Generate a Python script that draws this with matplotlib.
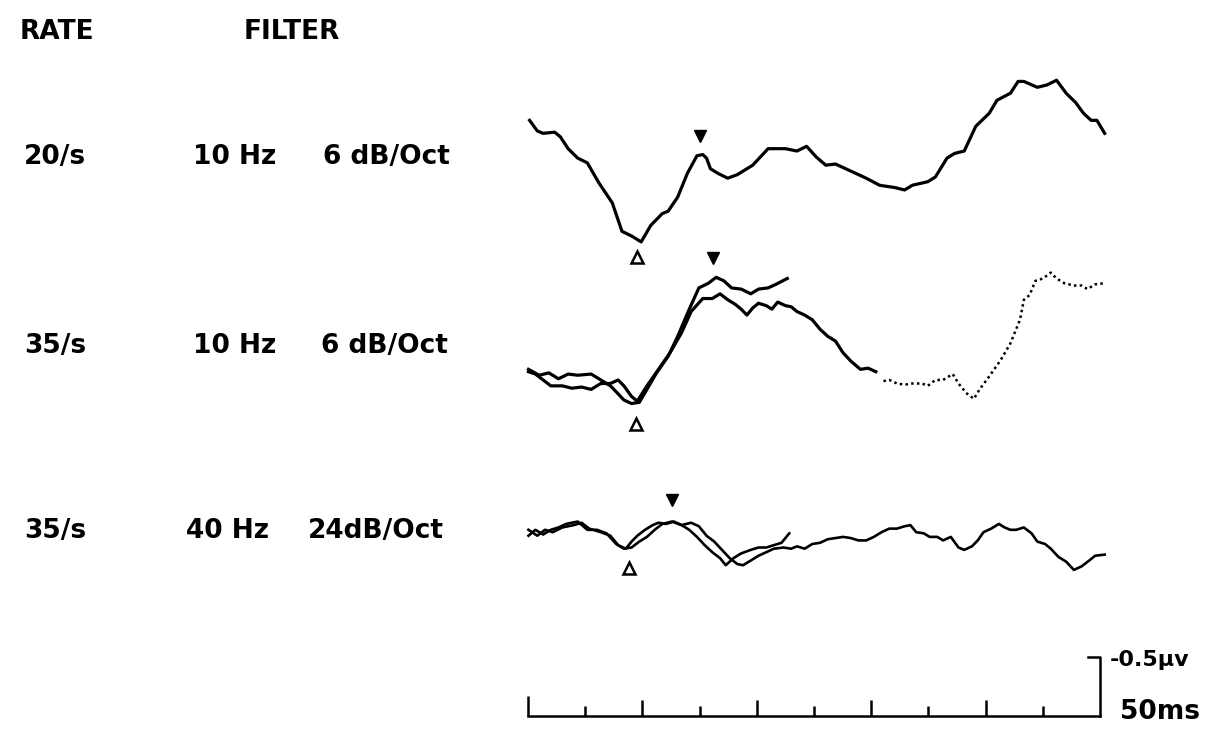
import numpy as np
import matplotlib.pyplot as plt

# sweep time in ms (10 ms per division), amplitude in µV, negativity plotted up
rate_labels = ['20/s', '35/s', '35/s']
filter_hz = ['10 Hz', '10 Hz', '40 Hz']
filter_slope = ['6 dB/Oct', '6 dB/Oct', '24dB/Oct']

# 20/s, 10 Hz 6 dB/Oct
tr1_t = [0.28, 1.63, 2.64, 4.65, 5.66, 7.01, 8.69, 10.37, 12.39, 14.74, 16.42, 18.10,
         19.78, 21.46, 23.48, 24.49, 26.17, 27.85, 29.53, 30.54, 31.21, 31.89, 33.23,
         34.91, 36.59, 39.28, 41.97, 45.00, 47.01, 48.70, 50.38, 52.06, 53.74, 56.43,
         59.12, 61.47, 64.16, 65.84, 67.19, 69.88, 71.22, 73.24, 74.58, 76.26, 78.28,
         80.63, 81.98, 84.33, 85.68, 86.69, 89.04, 90.72, 92.40, 94.08, 95.76, 97.11,
         98.45, 99.46, 100.81]
tr1_v = [-0.08, 0.01, 0.03, 0.02, 0.06, 0.16, 0.24, 0.28, 0.45, 0.62, 0.86, 0.90,
         0.95, 0.81, 0.71, 0.69, 0.57, 0.37, 0.22, 0.21, 0.24, 0.33, 0.37,
         0.41, 0.38, 0.30, 0.16, 0.16, 0.18, 0.14, 0.23, 0.30, 0.29, 0.35,
         0.41, 0.47, 0.49, 0.51, 0.47, 0.44, 0.40, 0.24, 0.20, 0.18, -0.03,
         -0.14, -0.25, -0.31, -0.41, -0.41, -0.36, -0.38, -0.42, -0.31, -0.23, -0.14,
         -0.08, -0.08, 0.03]

# 35/s, 10 Hz 6 dB/Oct - long sweep
tr2a_t = [0.08, 1.29, 2.64, 3.98, 6.00, 7.68, 9.36, 11.04, 12.72, 14.40, 15.75, 16.76,
          18.10, 19.11, 20.79, 22.81, 24.82, 26.84, 28.52, 30.54, 32.22, 33.57, 34.91,
          36.26, 37.26, 38.27, 39.28, 40.29, 41.64, 42.64, 43.65, 45.00, 46.01, 47.01,
          48.36, 49.70, 51.05, 52.39, 53.74, 55.08, 56.43, 58.11, 59.45, 60.80, 62.14,
          63.15, 64.50, 65.84, 67.19, 68.87, 69.88, 71.22, 72.57, 74.25, 75.26, 76.60,
          77.94, 78.95, 80.63, 82.65, 84.33, 86.01, 86.69, 87.70, 88.70, 90.05, 91.39,
          92.40, 93.75, 95.43, 96.77, 97.78, 99.13, 100.81]
tr2a_v = [-0.11, -0.09, -0.04, 0.01, 0.01, 0.03, 0.02, 0.04, -0.01, -0.01, -0.04, 0.01,
          0.10, 0.14, 0.01, -0.13, -0.27, -0.44, -0.62, -0.73, -0.73, -0.77, -0.72,
          -0.68, -0.64, -0.59, -0.65, -0.69, -0.67, -0.64, -0.70, -0.67, -0.66, -0.62,
          -0.59, -0.55, -0.47, -0.41, -0.37, -0.27, -0.20, -0.13, -0.14, -0.11, -0.03,
          -0.04, -0.01, 0.00, -0.01, -0.01, 0.01, -0.04, -0.04, -0.09, -0.01, 0.07,
          0.12, 0.04, -0.07, -0.21, -0.35, -0.55, -0.72, -0.76, -0.88, -0.90, -0.95,
          -0.90, -0.86, -0.84, -0.84, -0.81, -0.85, -0.86]
tr2_dotted_from = 60.80

# 35/s, 10 Hz 6 dB/Oct - short sweep
tr2b_t = [0.08, 1.96, 3.64, 5.33, 7.01, 8.69, 11.04, 12.72, 14.40, 15.41, 16.76, 18.10,
          19.45, 20.79, 22.47, 24.49, 26.17, 28.19, 29.87, 31.55, 32.89, 34.24, 35.58,
          37.26, 38.95, 40.29, 41.97, 43.32, 45.33]
tr2b_v = [-0.13, -0.08, -0.10, -0.05, -0.09, -0.08, -0.09, -0.04, 0.01, 0.06, 0.13, 0.16,
          0.15, 0.04, -0.10, -0.24, -0.41, -0.64, -0.82, -0.86, -0.91, -0.88, -0.82,
          -0.81, -0.77, -0.81, -0.82, -0.85, -0.90]

# 35/s, 40 Hz 24 dB/Oct - short sweep
tr3a_t = [0.08, 1.29, 2.64, 3.98, 5.33, 6.67, 8.69, 10.37, 12.05, 13.73, 15.41, 16.76,
          18.10, 19.45, 20.79, 22.14, 23.48, 25.16, 26.84, 28.19, 29.53, 30.88, 32.22,
          33.57, 34.57, 35.92, 37.26, 38.95, 40.29, 41.64, 42.98, 44.32, 45.67]
tr3a_v = [0.02, -0.03, 0.01, -0.03, -0.05, -0.08, -0.10, -0.03, -0.03, 0.00, 0.09, 0.13,
          0.12, 0.07, 0.03, -0.03, -0.08, -0.10, -0.07, -0.03, 0.03, 0.10, 0.16,
          0.21, 0.27, 0.21, 0.17, 0.14, 0.12, 0.12, 0.10, 0.08, 0.00]

# 35/s, 40 Hz 24 dB/Oct - long sweep
tr3b_t = [0.08, 1.63, 2.97, 4.32, 6.00, 8.01, 9.36, 10.70, 12.72, 14.40, 15.75, 17.09,
          18.10, 19.11, 20.45, 21.80, 22.81, 24.15, 25.50, 26.84, 28.52, 29.87, 31.21,
          32.56, 33.90, 35.25, 36.59, 37.60, 38.95, 40.29, 41.64, 42.98, 44.66, 46.01,
          47.01, 48.36, 49.70, 51.05, 52.39, 53.74, 55.08, 56.43, 57.77, 59.12, 60.46,
          61.81, 63.15, 64.50, 65.84, 66.85, 67.86, 69.20, 70.21, 71.56, 72.57, 73.91,
          75.26, 76.26, 77.61, 78.62, 79.63, 80.97, 82.32, 83.32, 84.33, 85.34, 86.69,
          88.03, 89.04, 90.38, 91.39, 92.74, 94.08, 95.43, 96.77, 98.12, 99.13, 100.81]
tr3b_v = [-0.03, 0.02, -0.03, -0.01, -0.05, -0.07, -0.09, -0.04, -0.01, 0.02, 0.10, 0.13,
          0.07, 0.02, -0.03, -0.07, -0.09, -0.08, -0.10, -0.07, -0.09, -0.06, 0.02,
          0.07, 0.14, 0.21, 0.26, 0.27, 0.23, 0.19, 0.16, 0.13, 0.12, 0.13,
          0.11, 0.13, 0.09, 0.08, 0.05, 0.04, 0.03, 0.04, 0.06, 0.06, 0.03,
          -0.01, -0.04, -0.04, -0.06, -0.07, -0.01, 0.00, 0.03, 0.03, 0.06, 0.03,
          0.12, 0.14, 0.11, 0.06, -0.01, -0.04, -0.08, -0.05, -0.03, -0.03, -0.05,
          0.00, 0.07, 0.09, 0.13, 0.20, 0.24, 0.31, 0.28, 0.23, 0.19, 0.18]

# peak (filled) and trough (open) markers per row
peak_t = [30.1, 32.3, 25.2]
peak_v = [0.05, -1.07, -0.28]
trough_t = [19.1, 18.9, 17.7]
trough_v = [1.08, 0.33, 0.29]

# calibration: 10 divisions of 10 ms, 0.5 µV vertical
cal_t = np.arange(0, 101, 10)
cal_uv = 0.5

row_base = [1.10, 3.26, 4.52]
cal_base = 6.07

fig = plt.figure(figsize=(12.19, 7.31), dpi=100)
ax = fig.add_axes([0, 0, 1, 1])
ax.set_xlim(-92.31, 120.80)
ax.set_ylim(6.195, 0)
ax.axis('off')

lw = 2.3
ax.plot(tr1_t, np.array(tr1_v) + row_base[0], color='black', lw=lw, solid_joinstyle='round')

t2 = np.array(tr2a_t)
v2 = np.array(tr2a_v) + row_base[1]
solid = t2 <= tr2_dotted_from
ax.plot(t2[solid], v2[solid], color='black', lw=lw)
ax.plot(t2[~solid], v2[~solid], color='black', lw=1.8, ls=(0, (1, 1.3)))
ax.plot(tr2b_t, np.array(tr2b_v) + row_base[1], color='black', lw=lw)

ax.plot(tr3a_t, np.array(tr3a_v) + row_base[2], color='black', lw=1.9)
ax.plot(tr3b_t, np.array(tr3b_v) + row_base[2], color='black', lw=1.9)

for i in range(3):
    ax.plot(peak_t[i], peak_v[i] + row_base[i], marker='v', ms=9, color='black')
    ax.plot(trough_t[i], trough_v[i] + row_base[i], marker='^', ms=8.5,
            mfc='white', mec='black', mew=1.8)

# time/amplitude calibration bar
ax.plot([cal_t[0], cal_t[-1]], [cal_base, cal_base], color='black', lw=1.8)
tick_h = [0.17 if i == 0 else (0.14 if i % 2 == 0 else 0.09) for i in range(len(cal_t) - 1)]
ax.vlines(cal_t[:-1], cal_base - np.array(tick_h), cal_base, color='black', lw=1.8)
ax.plot([cal_t[-1] - 2.1, cal_t[-1], cal_t[-1]],
        [cal_base - cal_uv, cal_base - cal_uv, cal_base], color='black', lw=1.8)
ax.text(cal_t[-1] + 1.7, cal_base - cal_uv + 0.02, '-0.5µv', fontsize=16,
        fontweight='bold', va='center', ha='left')
ax.text(cal_t[-1] + 3.5, cal_base - 0.04, '50ms', fontsize=19,
        fontweight='bold', va='center', ha='left')

# row labels
fs = 19
fig.text(57 / 1219, 1 - 32 / 731, 'RATE', fontsize=fs, fontweight='bold', ha='center', va='center')
fig.text(292 / 1219, 1 - 32 / 731, 'FILTER', fontsize=fs, fontweight='bold', ha='center', va='center')
label_y = [157, 346, 531]
hz_x = [235, 235, 228]
slope_x = [386, 384, 376]
for i in range(3):
    y = 1 - label_y[i] / 731
    fig.text(55 / 1219, y, rate_labels[i], fontsize=fs, fontweight='bold', ha='center', va='center')
    fig.text(hz_x[i] / 1219, y, filter_hz[i], fontsize=fs, fontweight='bold', ha='center', va='center')
    fig.text(slope_x[i] / 1219, y, filter_slope[i], fontsize=fs, fontweight='bold',
             ha='center', va='center')

fig.savefig('out.png', dpi=100, facecolor='white')
